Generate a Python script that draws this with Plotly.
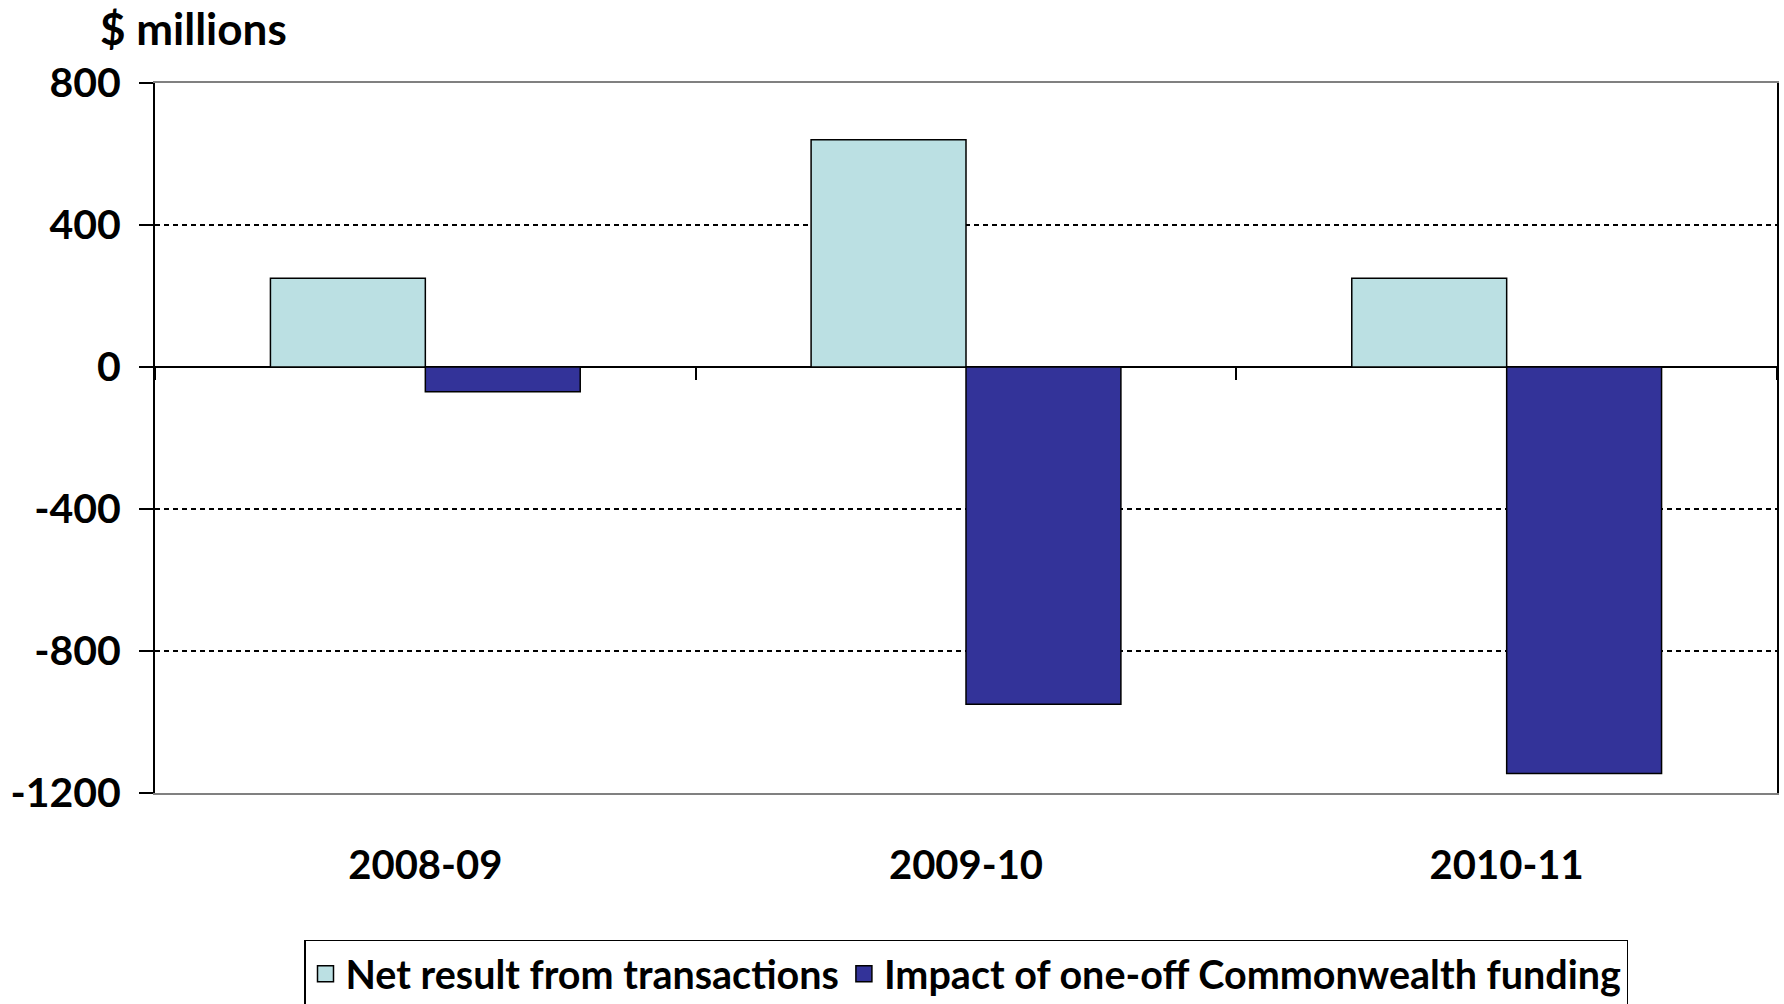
import plotly.graph_objects as go

years = ["2008-09", "2009-10", "2010-11"]
net_result = [250, 640, 250]
one_off_impact = [-70, -950, -1145]
series_names = ["Net result from transactions", "Impact of one-off Commonwealth funding"]
series_colors = ["#BBE0E3", "#333399"]
y_ticks = [800, 400, 0, -400, -800, -1200]

FONT = "Lato"

fig = go.Figure()
for name, vals, col in zip(series_names, [net_result, one_off_impact], series_colors):
    fig.add_trace(go.Bar(x=years, y=vals, name=name, showlegend=False,
                         marker=dict(color=col, line=dict(color="black", width=1.5))))
# legend entries with larger square swatches
for name, col in zip(series_names, series_colors):
    fig.add_trace(go.Scatter(x=[None], y=[None], name=name, mode="markers",
                             marker=dict(symbol="square", size=16, color=col,
                                         line=dict(color="black", width=1.5))))
# invisible trace on overlay axis used for category-boundary ticks on zero line
fig.add_trace(go.Scatter(x=years, y=net_result, xaxis="x2", mode="markers",
                         marker=dict(opacity=0), showlegend=False, hoverinfo="skip"))

fig.update_layout(
    width=1784, height=1004,
    margin=dict(l=155, r=7, t=83, b=211, autoexpand=False),
    paper_bgcolor="white", plot_bgcolor="white",
    font=dict(family=FONT, size=40, color="black", weight="bold"),
    barmode="group", bargap=0.427, bargroupgap=0,
    showlegend=True,
    legend=dict(orientation="h", x=0.5, xanchor="center", y=-0.207, yanchor="top",
                bordercolor="black", borderwidth=1.5, bgcolor="white",
                itemsizing="trace", itemwidth=30,
                font=dict(family=FONT, size=39.5, weight="bold"), traceorder="normal"),
    xaxis=dict(type="category", showgrid=False, ticks="", showline=True, mirror=True,
               linecolor="#808080", linewidth=1.5, ticklabelstandoff=36,
               tickfont=dict(size=40), zeroline=False),
    xaxis2=dict(type="category", overlaying="x", anchor="free", position=0.6, side="bottom",
                tickson="boundaries", ticks="outside", ticklen=12, tickwidth=1.5,
                tickcolor="black", showticklabels=False, showgrid=False, showline=False,
                range=[-0.5, 2.5]),
    yaxis=dict(range=[-1200, 800], tickvals=y_ticks, ticktext=[str(v) for v in y_ticks],
               showgrid=True, gridcolor="black", gridwidth=1.5, griddash="5px,4px",
               zeroline=True, zerolinecolor="black", zerolinewidth=1.5,
               showline=True, mirror=True, linecolor="black", linewidth=2,
               ticks="outside", ticklen=14, tickwidth=2, tickcolor="black",
               ticklabelstandoff=10, tickfont=dict(size=41)),
    annotations=[dict(text="$ millions", xref="paper", yref="paper", x=-0.035, y=1.077,
                      xanchor="left", yanchor="middle", showarrow=False,
                      font=dict(family=FONT, size=44, weight="bold"))],
)

fig.write_html("out.html")
